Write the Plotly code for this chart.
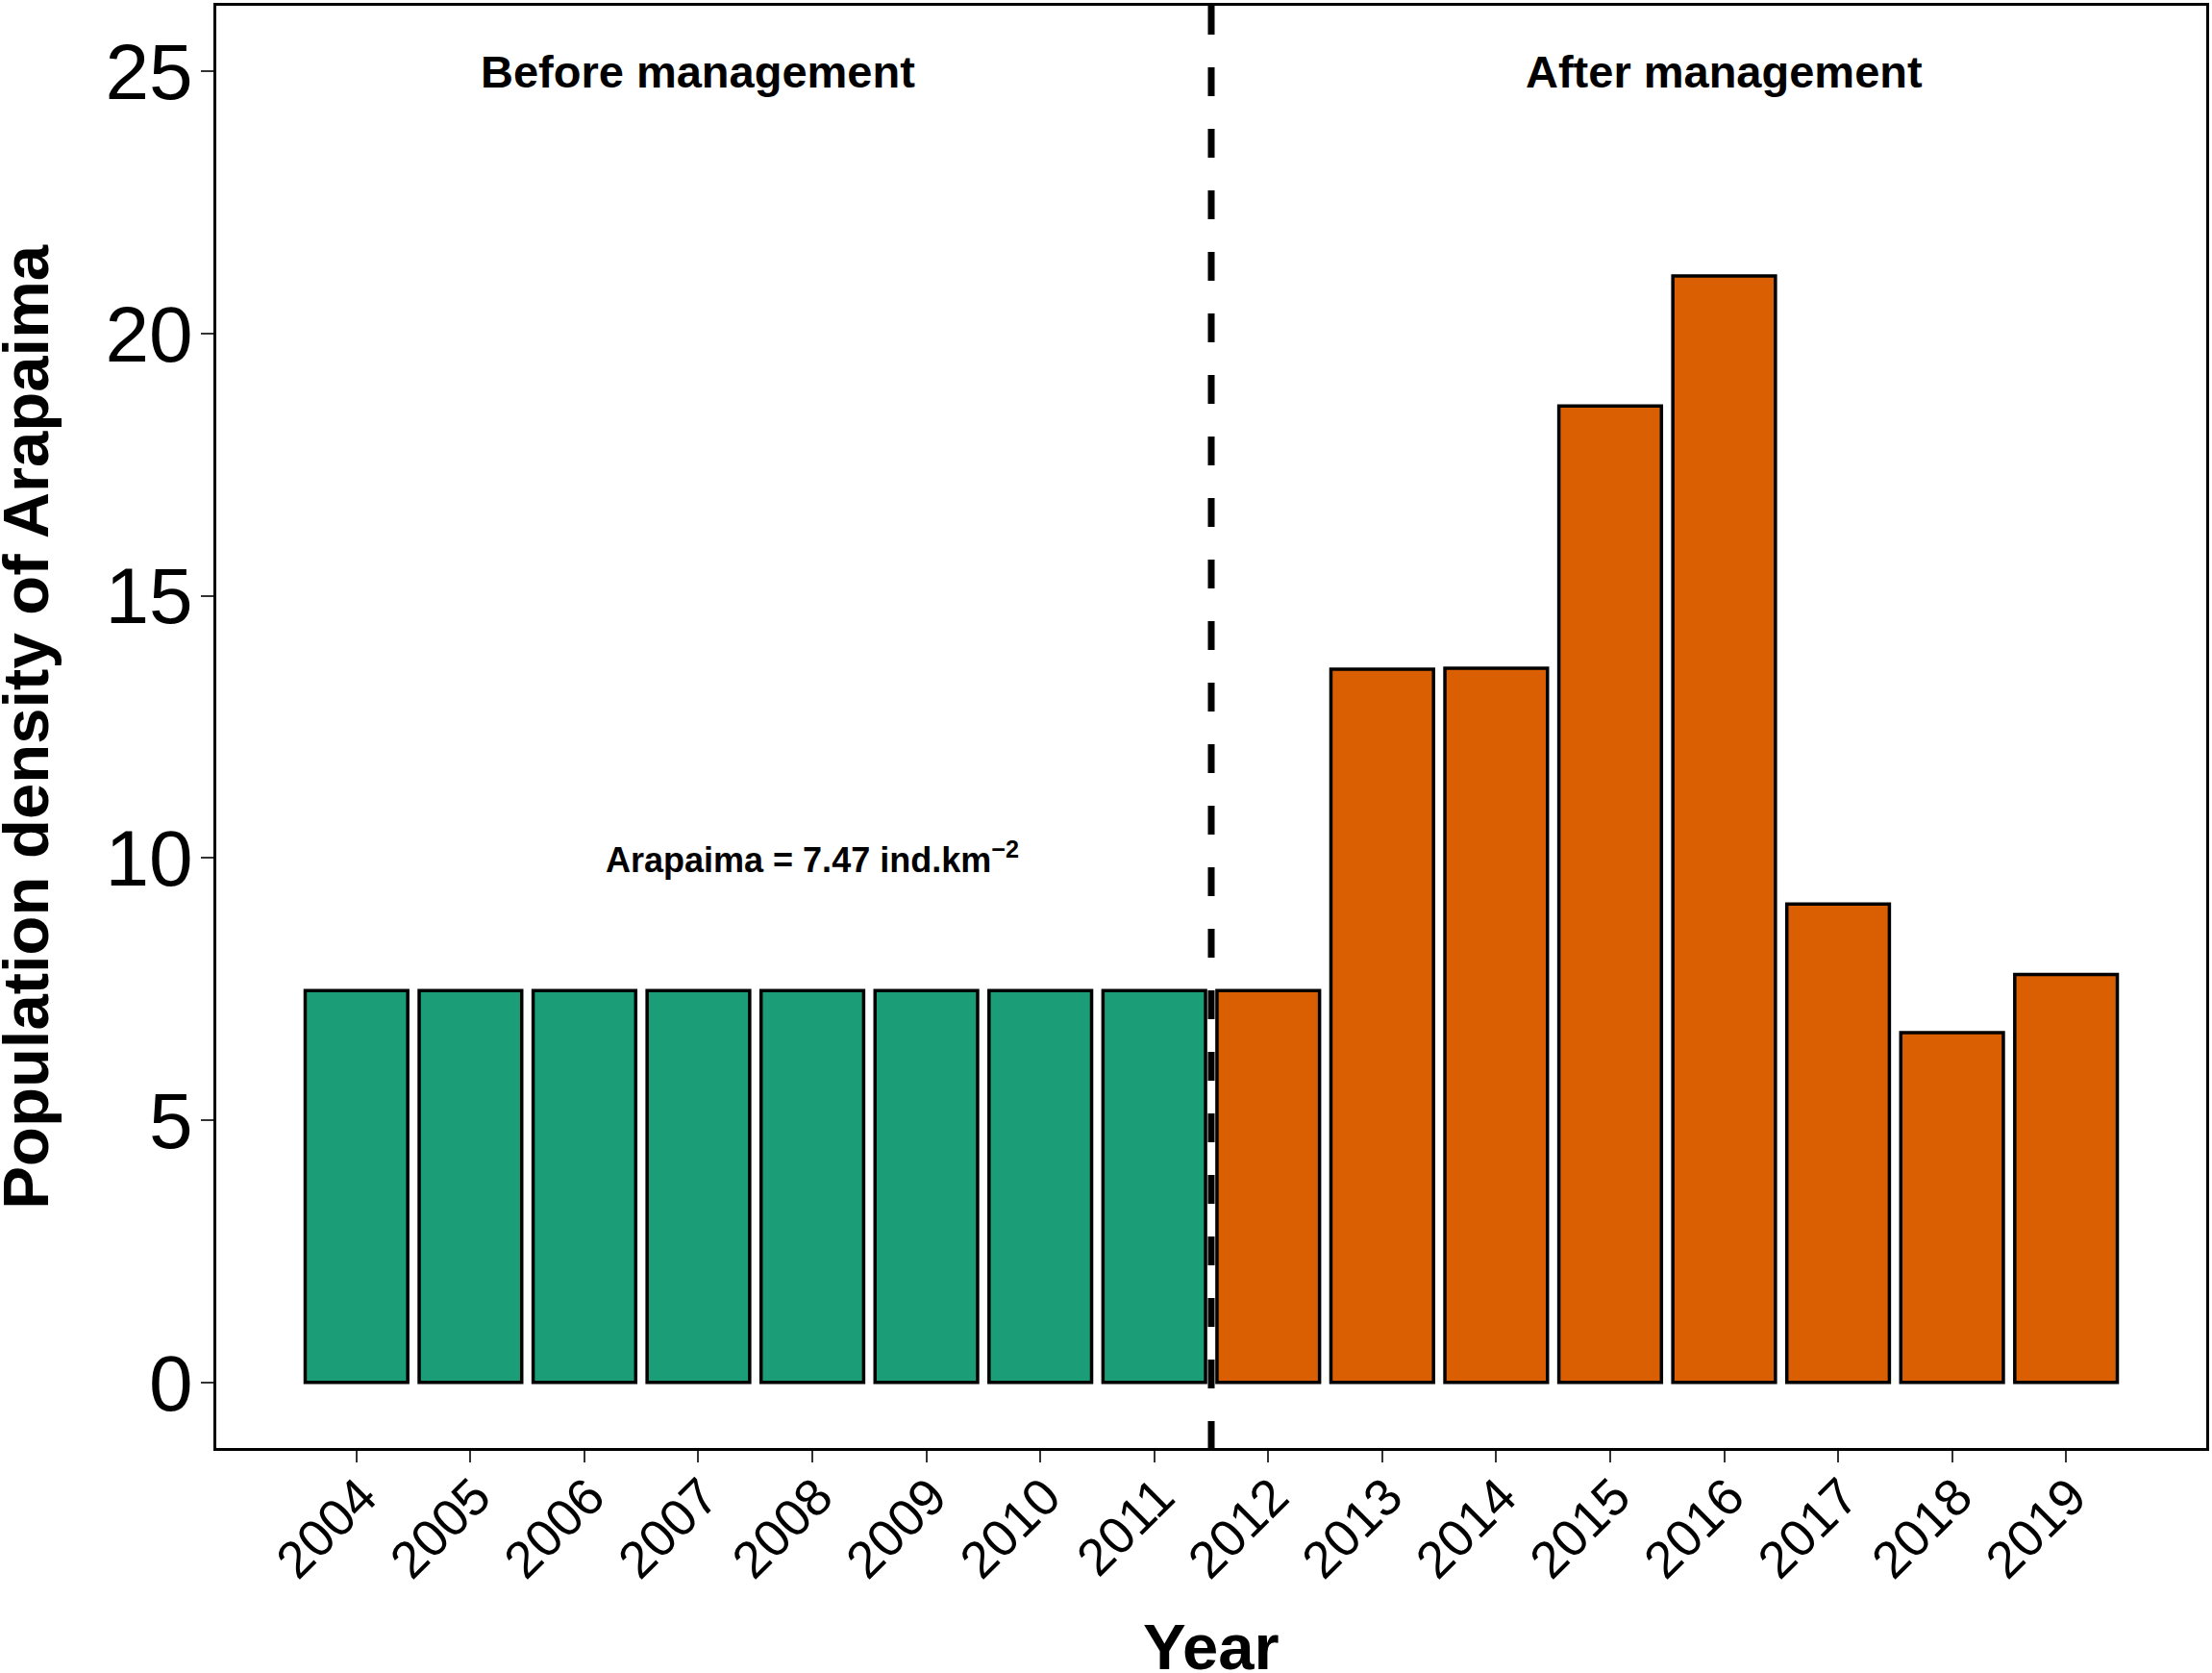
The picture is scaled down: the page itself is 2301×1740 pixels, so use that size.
import plotly.graph_objects as go

# Arapaima density per year (ind. km^-2)
years = list(range(2004, 2020))
density = [7.47, 7.47, 7.47, 7.47, 7.47, 7.47, 7.47, 7.47,
           7.47, 13.60, 13.62, 18.62, 21.10, 9.12, 6.67, 7.78]
period = ["Before"] * 8 + ["After"] * 8
period_colors = {"Before": "#1B9E77", "After": "#D95F02"}

FONT = "Arial, Liberation Sans, sans-serif"

fig = go.Figure()

fig.add_trace(
    go.Bar(
        x=years,
        y=density,
        width=0.9,
        marker=dict(
            color=[period_colors[p] for p in period],
            line=dict(color="black", width=3.5),
        ),
        showlegend=False,
    )
)

# management start, between 2011 and 2012
fig.add_shape(
    type="line",
    xref="x", yref="paper",
    x0=2011.5, x1=2011.5, y0=1, y1=0,
    line=dict(color="black", width=7, dash="30px,34px"),
)

annotations = [
    dict(x=2007, y=25, text="<b>Before management</b>", font_size=47),
    dict(x=2016, y=25, text="<b>After management</b>", font_size=47),
    dict(x=2008, y=10, text="<b>Arapaima = 7.47 ind.km<sup>−2</sup></b>", font_size=36),
]
for a in annotations:
    fig.add_annotation(
        x=a["x"], y=a["y"], xref="x", yref="y",
        text=a["text"], showarrow=False,
        xanchor="center", yanchor="middle",
        font=dict(family=FONT, size=a["font_size"], color="black"),
    )

# axis titles
fig.add_annotation(
    x=-0.0963, y=0.5, xref="paper", yref="paper",
    text="<b>Population density of Arapaima</b>", textangle=-90,
    showarrow=False, xanchor="center", yanchor="middle",
    font=dict(family=FONT, size=67, color="black"),
)
fig.add_annotation(
    x=0.5, y=-0.1377, xref="paper", yref="paper",
    text="<b>Year</b>", showarrow=False,
    xanchor="center", yanchor="middle",
    font=dict(family=FONT, size=67, color="black"),
)

fig.update_layout(
    width=2301,
    height=1740,
    margin=dict(l=225, r=4, t=3, b=234),
    plot_bgcolor="white",
    paper_bgcolor="white",
    font=dict(family=FONT, color="black"),
    xaxis=dict(
        range=[2004 - 1.23, 2019 + 1.23],
        tickvals=years,
        ticktext=[str(y) for y in years],
        tickangle=-45,
        tickfont=dict(size=54, color="black"),
        ticks="outside", ticklen=12, tickwidth=2, tickcolor="#333333",
        ticklabelstandoff=-18,
        ticklabelshift=5,
        showline=True, linecolor="black", linewidth=3, mirror=True,
        showgrid=False, zeroline=False,
    ),
    yaxis=dict(
        range=[-1.25, 26.25],
        tickvals=[0, 5, 10, 15, 20, 25],
        tickfont=dict(size=82, color="black"),
        ticks="outside", ticklen=13, tickwidth=2, tickcolor="#333333",
        ticklabelstandoff=-8,
        showline=True, linecolor="black", linewidth=3, mirror=True,
        showgrid=False, zeroline=False,
    ),
)

# page body margin would shift the figure by 8px
fig.write_html(
    "out.html",
    config={"displayModeBar": False},
    post_script="document.body.style.margin='0px';",
)
